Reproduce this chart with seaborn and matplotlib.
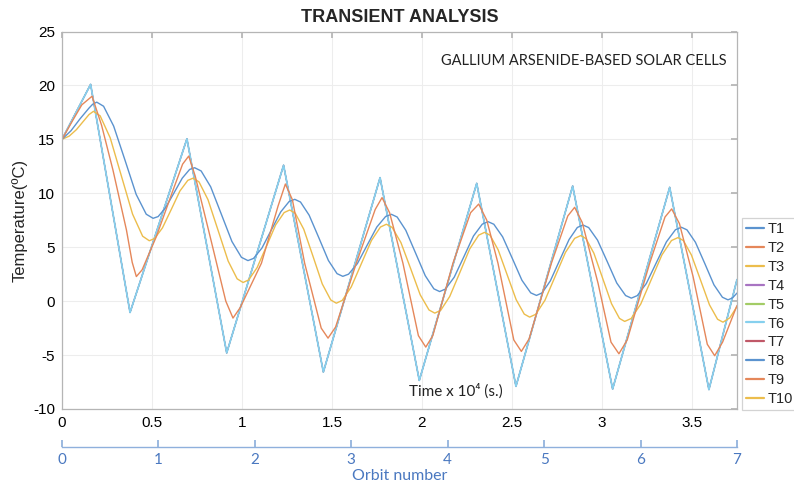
import matplotlib
matplotlib.use("Agg")
import matplotlib.pyplot as plt
import seaborn as sns

# ---- data (time in 1e4 s, temperature in degC) ----
# T1..T7 share the same fast-response sawtooth profile
saw_t = [0.000, 0.159, 0.378, 0.694, 0.915, 1.231, 1.452, 1.767, 1.985,
         2.304, 2.522, 2.837, 3.059, 3.376, 3.594, 3.750]
saw_T = [15.00, 20.10, -1.05, 15.05, -4.80, 12.60, -6.57, 11.45, -7.35,
         10.92, -7.90, 10.67, -8.15, 10.55, -8.20, 2.00]

t8_t = [0.000, 0.050, 0.100, 0.150, 0.170, 0.193, 0.231, 0.287, 0.350, 0.412,
        0.468, 0.506, 0.534, 0.575, 0.622, 0.668, 0.709, 0.737, 0.773, 0.826,
        0.885, 0.944, 0.997, 1.033, 1.064, 1.111, 1.163, 1.215, 1.262, 1.293,
        1.325, 1.373, 1.427, 1.480, 1.528, 1.560, 1.592, 1.641, 1.695, 1.749,
        1.798, 1.830, 1.862, 1.910, 1.964, 2.018, 2.066, 2.098, 2.130, 2.179,
        2.233, 2.286, 2.335, 2.367, 2.399, 2.448, 2.502, 2.555, 2.604, 2.636,
        2.667, 2.713, 2.765, 2.817, 2.863, 2.894, 2.926, 2.975, 3.029, 3.082,
        3.131, 3.163, 3.196, 3.246, 3.302, 3.358, 3.408, 3.441, 3.472, 3.519,
        3.571, 3.622, 3.669, 3.700, 3.725, 3.750]
t8_T = [15.00, 15.80, 16.90, 17.90, 18.25, 18.45, 18.07, 16.23, 13.07, 9.90,
        8.06, 7.68, 7.84, 8.65, 10.03, 11.40, 12.21, 12.37, 12.07, 10.60,
        8.07, 5.53, 4.06, 3.76, 3.96, 4.93, 6.60, 8.27, 9.24, 9.44,
        9.19, 7.97, 5.87, 3.77, 2.55, 2.30, 2.50, 3.48, 5.18, 6.87,
        7.85, 8.05, 7.80, 6.57, 4.47, 2.36, 1.14, 0.89, 1.12, 2.22,
        4.13, 6.04, 7.14, 7.37, 7.13, 5.96, 3.95, 1.94, 0.77, 0.53,
        0.76, 1.88, 3.80, 5.71, 6.83, 7.06, 6.82, 5.66, 3.67, 1.68,
        0.52, 0.28, 0.51, 1.63, 3.57, 5.50, 6.62, 6.85, 6.61, 5.46,
        3.49, 1.51, 0.36, 0.12, 0.30, 0.75]

t9_t = [0.000, 0.061, 0.110, 0.167, 0.220, 0.283, 0.358, 0.390, 0.413, 0.445,
        0.524, 0.617, 0.670, 0.704, 0.740, 0.830, 0.910, 0.950, 0.990, 1.108,
        1.200, 1.241, 1.280, 1.348, 1.440, 1.478, 1.520, 1.635, 1.740, 1.778,
        1.820, 1.894, 1.980, 2.021, 2.060, 2.172, 2.270, 2.315, 2.360, 2.422,
        2.510, 2.552, 2.595, 2.719, 2.810, 2.848, 2.890, 2.978, 3.050, 3.094,
        3.140, 3.265, 3.350, 3.387, 3.430, 3.506, 3.585, 3.626, 3.670, 3.750]
t9_T = [15.00, 16.80, 18.20, 19.00, 16.30, 12.16, 6.60, 3.60, 2.28, 2.90,
        5.98, 10.30, 12.70, 13.45, 11.60, 5.50, 0.00, -1.57, -0.60, 3.52,
        8.80, 10.86, 9.40, 3.52, -2.50, -3.43, -2.40, 3.52, 8.50, 9.60,
        8.20, 3.52, -3.20, -4.26, -3.20, 3.52, 8.20, 9.00, 7.50, 3.52,
        -3.60, -4.66, -3.50, 3.52, 7.90, 8.70, 7.30, 1.66, -3.80, -4.88,
        -3.60, 3.52, 7.80, 8.55, 7.20, 2.28, -4.00, -5.06, -3.80, -0.40]

t10_t = [0.000, 0.040, 0.080, 0.120, 0.150, 0.175, 0.212, 0.268, 0.330, 0.392,
         0.448, 0.485, 0.514, 0.558, 0.607, 0.655, 0.699, 0.728, 0.761, 0.811,
         0.867, 0.923, 0.973, 1.006, 1.037, 1.084, 1.136, 1.187, 1.234, 1.265,
         1.296, 1.343, 1.395, 1.446, 1.493, 1.524, 1.557, 1.607, 1.663, 1.719,
         1.769, 1.802, 1.834, 1.883, 1.937, 1.990, 2.039, 2.071, 2.104, 2.154,
         2.210, 2.265, 2.315, 2.348, 2.378, 2.423, 2.473, 2.523, 2.568, 2.598,
         2.632, 2.683, 2.740, 2.797, 2.848, 2.882, 2.911, 2.955, 3.004, 3.053,
         3.097, 3.126, 3.162, 3.215, 3.274, 3.333, 3.386, 3.422, 3.452, 3.497,
         3.547, 3.597, 3.642, 3.672, 3.710, 3.750]
t10_T = [15.00, 15.30, 15.90, 16.70, 17.30, 17.60, 17.18, 15.13, 11.60, 8.07,
         6.02, 5.60, 5.80, 6.79, 8.50, 10.21, 11.20, 11.40, 11.06, 9.41,
         6.57, 3.72, 2.07, 1.73, 1.97, 3.11, 5.09, 7.07, 8.21, 8.45,
         8.15, 6.67, 4.13, 1.59, 0.11, -0.19, 0.07, 1.32, 3.47, 5.62,
         6.87, 7.13, 6.84, 5.43, 3.01, 0.59, -0.82, -1.11, -0.85, 0.43,
         2.64, 4.84, 6.12, 6.38, 6.11, 4.76, 2.45, 0.14, -1.20, -1.48,
         -1.22, 0.08, 2.30, 4.52, 5.82, 6.08, 5.80, 4.44, 2.10, -0.24,
         -1.60, -1.88, -1.61, -0.28, 2.01, 4.29, 5.62, 5.89, 5.62, 4.27,
         1.97, -0.34, -1.68, -1.95, -1.55, -0.50]

series_names = ["T1", "T2", "T3", "T4", "T5", "T6", "T7", "T8", "T9", "T10"]
series_data = {
    "T1": (saw_t, saw_T), "T2": (saw_t, saw_T), "T3": (saw_t, saw_T),
    "T4": (saw_t, saw_T), "T5": (saw_t, saw_T), "T6": (saw_t, saw_T),
    "T7": (saw_t, saw_T), "T8": (t8_t, t8_T), "T9": (t9_t, t9_T),
    "T10": (t10_t, t10_T),
}
series_colors = {
    "T1": "#5b93cf", "T2": "#e5875a", "T3": "#ecbd4c", "T4": "#a874c2",
    "T5": "#a3cc66", "T6": "#86d0ee", "T7": "#c05868", "T8": "#5b93cf",
    "T9": "#e5875a", "T10": "#ecbd4c",
}

x_ticks = [0, 0.5, 1, 1.5, 2, 2.5, 3, 3.5]
x_tick_labels = ["0", "0.5", "1", "1.5", "2", "2.5", "3", "3.5"]
y_ticks = [-10, -5, 0, 5, 10, 15, 20, 25]
orbit_ticks = [0, 1, 2, 3, 4, 5, 6, 7]
orbit_period = 3.75 / 7  # 1e4 s per orbit

# ---- style ----
sns.set_theme(style="white")
plt.rcParams["font.family"] = ["Liberation Sans", "DejaVu Sans"]
plt.rcParams["axes.unicode_minus"] = False

fig = plt.figure(figsize=(7.94, 4.88), dpi=100)
ax = fig.add_axes([62 / 794, 1 - 409 / 488, 675 / 794, (409 - 31.5) / 488])

# the coincident sawtooth group is drawn first, with T6 (cyan) last and a
# touch wider so it covers the others; the lagging responses go on top
draw_order = ["T1", "T2", "T3", "T5", "T7", "T4", "T6", "T10", "T8", "T9"]
line_widths = {"T1": 0.7, "T2": 0.7, "T3": 0.7, "T4": 0.9, "T5": 0.7,
               "T6": 1.3, "T7": 0.7, "T8": 1.0, "T9": 1.0, "T10": 1.0}
for name in draw_order:
    xs, ys = series_data[name]
    sns.lineplot(x=xs, y=ys, ax=ax, color=series_colors[name], label=name,
                 linewidth=line_widths[name], sort=False, estimator=None)

ax.set_xlim(0, 3.75)
ax.set_ylim(-10, 25)
ax.set_xticks(x_ticks)
ax.set_xticklabels(x_tick_labels)
ax.set_yticks(y_ticks)
ax.grid(True, color="#ededed", linewidth=0.8)
ax.set_axisbelow(True)
for sp in ax.spines.values():
    sp.set_color("#b5b5b5")
    sp.set_linewidth(0.9)
ax.tick_params(direction="in", top=True, right=True, length=4,
               color="#b5b5b5", labelsize=11, labelcolor="black", pad=5)

ax.set_ylabel("Temperature(ºC)", fontsize=12, labelpad=4)
ax.set_xlabel("")
ax.set_title("TRANSIENT ANALYSIS", fontsize=13, fontweight="bold", pad=7)

ax.text(0.773, 0.923, "GALLIUM ARSENIDE-BASED SOLAR CELLS",
        transform=ax.transAxes, ha="center", va="center", fontsize=10.5,
        family=["Lato", "DejaVu Sans"], color="#222222")
ax.text(0.584, 0.047, "Time x 10⁴ (s.)", transform=ax.transAxes,
        ha="center", va="center", fontsize=11,
        family=["Lato", "DejaVu Sans"], color="#222222")

# orbit-number axis below the time axis
text_blue = "#4a78c0"
line_blue = "#8fb0dc"
sec = ax.secondary_xaxis(-0.1007, functions=(lambda t: t / orbit_period,
                                             lambda o: o * orbit_period))
sec.set_xticks(orbit_ticks)
sec.set_xticklabels([str(o) for o in orbit_ticks])
sec.spines["bottom"].set_color(line_blue)
sec.spines["bottom"].set_linewidth(1.0)
sec.tick_params(direction="in", length=5, color=line_blue,
                labelcolor=text_blue, labelsize=11, pad=4)
for lbl in sec.get_xticklabels():
    lbl.set_family(["Lato", "DejaVu Sans"])
sec.set_xlabel("Orbit number", color=text_blue, fontsize=11.5,
               family=["Lato", "DejaVu Sans"], labelpad=2)

# legend listed T1..T10
handles, labels = ax.get_legend_handles_labels()
by_label = dict(zip(labels, handles))
leg = ax.legend([by_label[n] for n in series_names], series_names,
                loc="lower left", bbox_to_anchor=(1.0075, -0.003),
                frameon=True, fancybox=False, edgecolor="#c8c8c8",
                fontsize=10.5, handlelength=1.2, handletextpad=0.25,
                labelspacing=0.33, borderaxespad=0, borderpad=0.3)
leg.get_frame().set_linewidth(0.9)
for line in leg.get_lines():
    line.set_linewidth(1.6)

fig.savefig("out.png", dpi=100)
